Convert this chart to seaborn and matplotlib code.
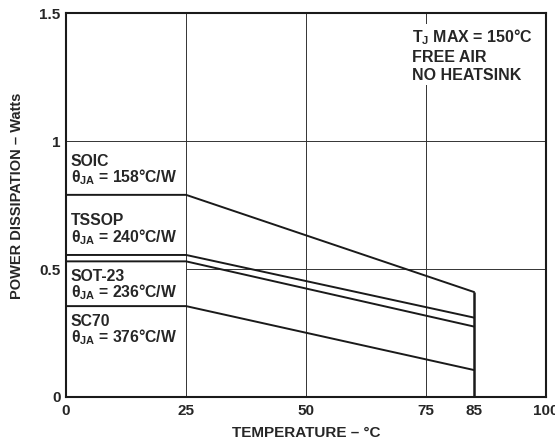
import matplotlib
matplotlib.use("Agg")
import matplotlib.pyplot as plt
import seaborn as sns
import pandas as pd

# data
temps = [0, 25, 85]
soic = [0.79, 0.79, 0.41]
tssop = [0.555, 0.555, 0.31]
sot23 = [0.53, 0.53, 0.275]
sc70 = [0.355, 0.355, 0.105]

x_ticks = [0, 25, 50, 75, 85, 100]
y_ticks = [0, 0.5, 1, 1.5]
y_tick_labels = ["0", "0.5", "1", "1.5"]

df = pd.concat([
    pd.DataFrame({"pkg": name, "temp": temps, "power": vals})
    for name, vals in [("SOIC", soic), ("TSSOP", tssop), ("SOT-23", sot23), ("SC70", sc70)]
])

sns.set_style("white")
plt.rcParams["font.family"] = ["Liberation Sans", "DejaVu Sans"]
plt.rcParams["font.weight"] = "bold"
plt.rcParams["mathtext.fontset"] = "custom"
plt.rcParams["mathtext.rm"] = "Liberation Sans:bold"
plt.rcParams["mathtext.it"] = "Liberation Sans:bold"
plt.rcParams["mathtext.bf"] = "Liberation Sans:bold"

fig = plt.figure(figsize=(5.55, 4.42), dpi=100)
ax = fig.add_axes([0.119, 0.102, 0.865, 0.868])

# grid (the 0.5 line is hidden behind the labels left of 25)
grid_c = "#333333"
for gx in [25, 50, 75]:
    ax.axvline(gx, color=grid_c, lw=0.7, zorder=1)
ax.axhline(1, color=grid_c, lw=0.7, zorder=1)
ax.axhline(0.5, xmin=0.25, color=grid_c, lw=0.7, zorder=1)

sns.lineplot(data=df, x="temp", y="power", units="pkg", estimator=None,
             color="#1a1a1a", lw=1.4, ax=ax, zorder=3)
ax.vlines(85, 0, soic[-1], color="#1a1a1a", lw=1.8, zorder=3)

ax.set_xlim(0, 100)
ax.set_ylim(0, 1.5)
ax.set_xticks(x_ticks)
ax.set_yticks(y_ticks)
ax.set_yticklabels(y_tick_labels)
ax.tick_params(length=0, labelsize=11, pad=4)
ax.tick_params(axis="x", pad=5)
for lab in ax.get_xticklabels() + ax.get_yticklabels():
    lab.set_fontweight("bold")
ax.set_xlabel("TEMPERATURE – °C", fontsize=11, fontweight="bold", labelpad=6)
ax.set_ylabel("POWER DISSIPATION – Watts", fontsize=10.5, fontweight="bold")
ax.yaxis.set_label_coords(-0.088, 0.525)
for s in ax.spines.values():
    s.set_visible(True)
    s.set_color("#1a1a1a")
    s.set_linewidth(1.5)

lab_kw = dict(fontsize=11.3, fontweight="bold", ha="left", linespacing=0.9, zorder=4)
ax.text(1.0, soic[0] + 0.03, "SOIC\n$\\theta_{JA}$ = 158°C/W", va="bottom", **lab_kw)
ax.text(1.0, tssop[0] + 0.033, "TSSOP\n$\\theta_{JA}$ = 240°C/W", va="bottom", **lab_kw)
ax.text(1.0, sot23[0] - 0.03, "SOT-23\n$\\theta_{JA}$ = 236°C/W", va="top", **lab_kw)
ax.text(1.0, sc70[0] - 0.03, "SC70\n$\\theta_{JA}$ = 376°C/W", va="top", **lab_kw)

ax.text(72.0, 1.445, "$T_J$ MAX = 150°C\nFREE AIR\nNO HEATSINK", fontsize=11.5,
        fontweight="bold", ha="left", va="top", linespacing=1.25, zorder=4,
        bbox=dict(facecolor="white", edgecolor="none", pad=1.5))

fig.savefig("out.png", dpi=100)
